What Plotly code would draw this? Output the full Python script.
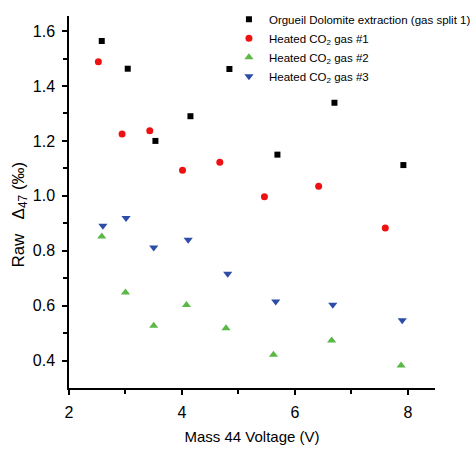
import plotly.graph_objects as go

names = ["Orgueil Dolomite extraction (gas split 1)",
         "Heated CO<sub>2</sub> gas #1",
         "Heated CO<sub>2</sub> gas #2",
         "Heated CO<sub>2</sub> gas #3"]

x_org = [2.58, 3.04, 3.53, 4.15, 4.84, 5.69, 6.70, 7.92]
y_org = [1.564, 1.463, 1.200, 1.290, 1.462, 1.150, 1.339, 1.112]

x_g1 = [2.52, 2.94, 3.43, 4.01, 4.67, 5.46, 6.42, 7.60]
y_g1 = [1.488, 1.225, 1.237, 1.093, 1.122, 0.997, 1.035, 0.883]

x_g2 = [2.58, 3.00, 3.50, 4.08, 4.78, 5.62, 6.65, 7.88]
y_g2 = [0.852, 0.648, 0.527, 0.602, 0.518, 0.421, 0.473, 0.382]

x_g3 = [2.60, 3.01, 3.50, 4.11, 4.81, 5.66, 6.67, 7.90]
y_g3 = [0.891, 0.919, 0.812, 0.840, 0.716, 0.615, 0.603, 0.547]

FONT = "Liberation Sans, Arial, sans-serif"

fig = go.Figure()
fig.add_trace(go.Scatter(x=x_org, y=y_org, mode="markers", name=names[0],
                         marker=dict(symbol="square", size=6, color="black")))
fig.add_trace(go.Scatter(x=x_g1, y=y_g1, mode="markers", name=names[1],
                         marker=dict(symbol="circle", size=7, color="#ee1111")))
fig.add_trace(go.Scatter(x=x_g2, y=y_g2, mode="markers", name=names[2],
                         marker=dict(symbol="triangle-up", size=8, color="#5ab845")))
fig.add_trace(go.Scatter(x=x_g3, y=y_g3, mode="markers", name=names[3],
                         marker=dict(symbol="triangle-down", size=8, color="#2b4da8")))

axis_common = dict(showline=True, linecolor="black", linewidth=1.5, ticks="outside",
                   ticklen=5, tickwidth=1.5, tickcolor="black", showgrid=False,
                   zeroline=False, mirror=False, ticklabelstandoff=4,
                   tickfont=dict(family=FONT, size=16, color="black"))

fig.update_xaxes(range=[2, 8.48], tickvals=[2, 4, 6, 8],
                 minor=dict(tickvals=[3, 5, 7], ticks="outside", ticklen=4, tickcolor="black", tickwidth=1.5),
                 title=dict(text="Mass 44 Voltage (V)", font=dict(family=FONT, size=15, color="black"), standoff=12),
                 **axis_common)
fig.update_yaxes(range=[0.3, 1.655], tickvals=[0.4, 0.6, 0.8, 1.0, 1.2, 1.4, 1.6],
                 tickformat=".1f",
                 minor=dict(tickvals=[0.5, 0.7, 0.9, 1.1, 1.3, 1.5], ticks="outside", ticklen=4, tickcolor="black", tickwidth=1.5),
                 **axis_common)

fig.add_annotation(text="Raw&nbsp;&nbsp;&nbsp;Δ<sub>47</sub> (‰)", textangle=-90, xref="paper", yref="paper",
                   x=-0.135, y=0.465, xanchor="center", yanchor="middle", showarrow=False,
                   font=dict(family=FONT, size=17, color="black"))

fig.update_layout(width=475, height=455, margin=dict(l=69, r=40, t=16, b=67, autoexpand=False),
                  paper_bgcolor="white", plot_bgcolor="white",
                  legend=dict(x=0.437, y=1.03, xanchor="left", yanchor="top",
                              bgcolor="rgba(0,0,0,0)", tracegroupgap=0, itemsizing="trace",
                              font=dict(family=FONT, size=11.5, color="black")),
                  showlegend=True)

fig.write_html("out.html")
